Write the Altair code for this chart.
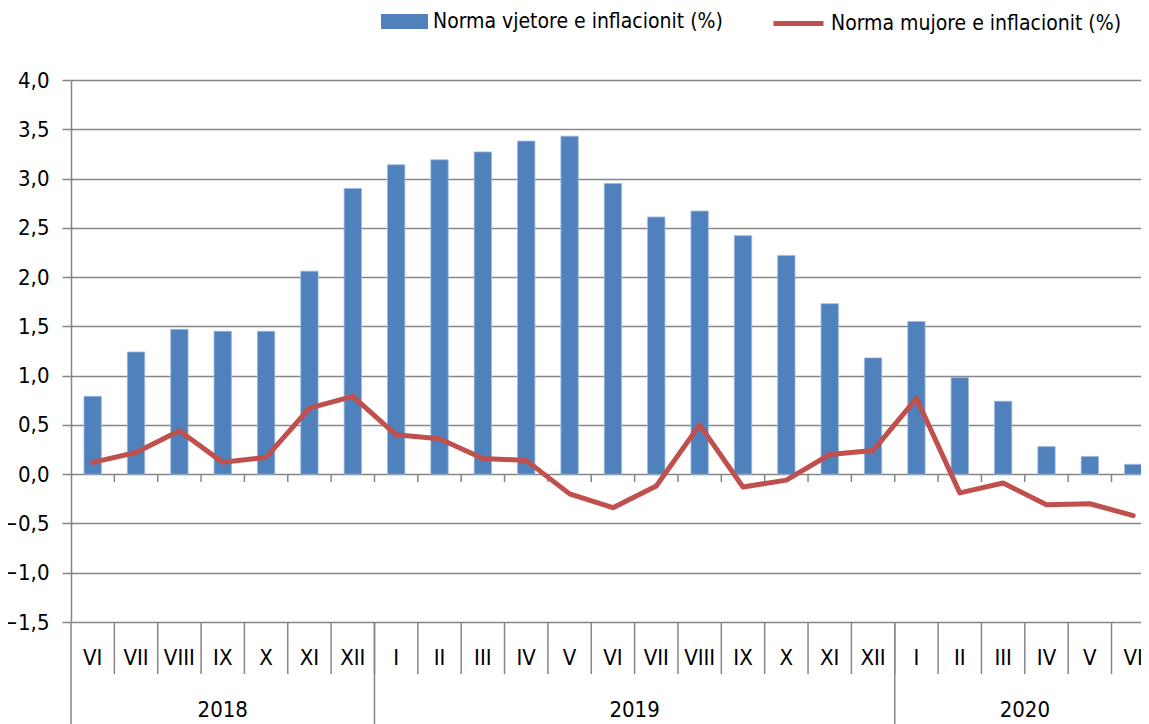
import altair as alt
import pandas as pd

months = ["VI", "VII", "VIII", "IX", "X", "XI", "XII",
          "I", "II", "III", "IV", "V", "VI", "VII", "VIII", "IX", "X", "XI", "XII",
          "I", "II", "III", "IV", "V", "VI"]
years = ["2018"] * 7 + ["2019"] * 12 + ["2020"] * 6
annual = [0.79, 1.24, 1.47, 1.45, 1.45, 2.06, 2.90,
          3.14, 3.19, 3.27, 3.38, 3.43, 2.95, 2.61, 2.67, 2.42, 2.22, 1.73, 1.18,
          1.55, 0.98, 0.74, 0.28, 0.18, 0.10]
monthly = [0.12, 0.22, 0.44, 0.12, 0.17, 0.67, 0.79,
           0.40, 0.36, 0.16, 0.14, -0.20, -0.34, -0.12, 0.50, -0.13, -0.06, 0.20, 0.24,
           0.77, -0.19, -0.09, -0.31, -0.30, -0.42]
series_names = ["Norma vjetore e inflacionit (%)", "Norma mujore e inflacionit (%)"]
y_ticks = [-1.5, -1.0, -0.5, 0.0, 0.5, 1.0, 1.5, 2.0, 2.5, 3.0, 3.5, 4.0]

BLUE = "#4F81BD"
RED = "#C0504D"
GRAY = "#868686"
FONT = "Liberation Sans Narrow, DejaVu Sans Condensed, Arial Narrow, sans-serif"
FS = 22
LFS = 21

W, H = 1070, 542

n = len(months)
df = pd.DataFrame({
    "idx": list(range(n)),
    "month": months,
    "year": years,
    "annual": annual,
    "monthly": monthly,
    "s_bar": [series_names[0]] * n,
    "s_line": [series_names[1]] * n,
})

# the last category is cut at the right edge, as in the reference
xs = alt.Scale(domain=[-0.5, n - 0.82], nice=False, zero=False)
ys = alt.Scale(domain=[y_ticks[0], y_ticks[-1]], nice=False, zero=False)
yaxis = alt.Axis(
    values=y_ticks, title=None,
    labelExpr="replace(format(datum.value, '.1f'), '.', ',')",
    grid=True, gridColor=GRAY, gridWidth=1.5,
    tickSize=9, tickColor=GRAY, tickWidth=1.5,
    domainColor=GRAY, domainWidth=1.5,
    labelFontSize=FS, labelFont=FONT, labelColor="#000000", labelPadding=13)

base = alt.Chart(df)

bars = base.transform_calculate(
    x_lo="datum.idx - 0.2", x_hi="datum.idx + 0.2", base0="0"
).mark_bar(stroke="#9DB9DE", strokeWidth=0.8).encode(
    x=alt.X("x_lo:Q", scale=xs, axis=None),
    x2="x_hi:Q",
    y=alt.Y("annual:Q", scale=ys, axis=yaxis),
    y2="base0:Q",
    fill=alt.Fill("s_bar:N", scale=alt.Scale(domain=[series_names[0]], range=[BLUE]),
                  legend=alt.Legend(orient="none", legendX=310, legendY=-82, title=None,
                                    symbolType="M-1,-0.32H1V0.32H-1Z", symbolSize=2209,
                                    symbolStrokeWidth=0, labelFontSize=LFS, labelFont=FONT,
                                    labelColor="#000000", labelLimit=500, labelOffset=5,
                                    padding=0)),
)

zero_ticks = base.transform_filter("datum.idx < %d" % (n - 1)).transform_calculate(
    sep="datum.idx + 0.5", top="0", bot="-0.08"
).mark_rule(color=GRAY, strokeWidth=1.5).encode(
    x=alt.X("sep:Q", scale=xs, axis=None),
    y=alt.Y("top:Q", scale=ys, axis=yaxis),
    y2="bot:Q",
)

line = base.mark_line(strokeWidth=5, strokeJoin="round", strokeCap="round").encode(
    x=alt.X("idx:Q", scale=xs, axis=None),
    y=alt.Y("monthly:Q", scale=ys, axis=yaxis),
    stroke=alt.Stroke("s_line:N", scale=alt.Scale(domain=[series_names[1]], range=[RED]),
                      legend=alt.Legend(orient="none", legendX=700, legendY=-84, title=None,
                                        symbolType="stroke", symbolSize=2500,
                                        symbolStrokeWidth=5, labelFontSize=LFS, labelFont=FONT,
                                        labelColor="#000000", labelLimit=500, labelOffset=5,
                                        padding=0)),
)

month_seps = base.transform_filter("datum.idx < %d" % (n - 1)).transform_calculate(
    sep="datum.idx + 0.5"
).mark_rule(color=GRAY, strokeWidth=1.5).encode(
    x=alt.X("sep:Q", scale=xs, axis=None),
    y=alt.value(H),
    y2=alt.value(H + 52),
)

year_seps = base.transform_aggregate(
    last="max(idx)", groupby=["year"]
).transform_calculate(
    sep="datum.last == %d ? -0.5 : datum.last + 0.5" % (n - 1)
).mark_rule(color=GRAY, strokeWidth=1.5).encode(
    x=alt.X("sep:Q", scale=xs, axis=None),
    y=alt.value(H),
    y2=alt.value(H + 110),
)

month_labels = base.mark_text(fontSize=FS, font=FONT, color="#000000", baseline="middle").encode(
    x=alt.X("idx:Q", scale=xs, axis=None),
    y=alt.value(H + 36),
    text="month:N",
)

year_labels = base.transform_aggregate(
    mid="mean(idx)", groupby=["year"]
).mark_text(fontSize=FS, font=FONT, color="#000000", baseline="middle").encode(
    x=alt.X("mid:Q", scale=xs, axis=None),
    y=alt.value(H + 88),
    text="year:N",
)

chart = alt.layer(
    bars, zero_ticks, line, month_seps, year_seps, month_labels, year_labels
).properties(
    width=W, height=H,
    autosize=alt.AutoSizeParams(type="none"),
    padding={"left": 63, "top": 72, "right": 0, "bottom": 102},
).configure_view(stroke=None)

chart.save("out.html", embed_options={"renderer": "svg", "actions": False})
